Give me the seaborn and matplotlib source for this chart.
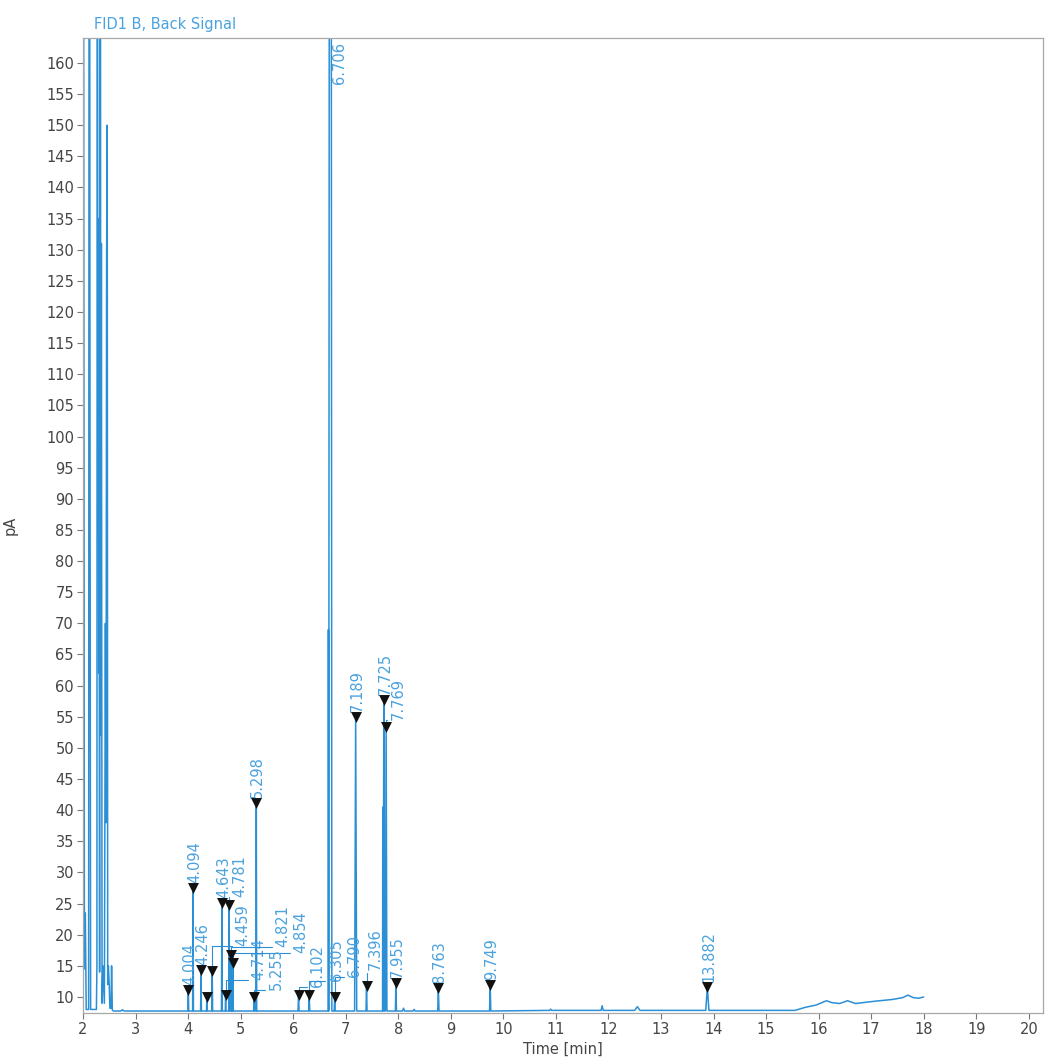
import numpy as np
import pandas as pd
import matplotlib
matplotlib.use("Agg")
import matplotlib.pyplot as plt
import seaborn as sns

# ---------------------------------------------------------------- data
# Solvent front: overlapping injection peaks (time in min, signal in pA)
solvent_time = [2.000, 2.027, 2.044, 2.061, 2.107, 2.120, 2.133, 2.145,
                2.255, 2.265, 2.274, 2.282, 2.291, 2.299, 2.306, 2.316,
                2.327, 2.339, 2.350, 2.363, 2.379, 2.392, 2.407, 2.426,
                2.438, 2.449, 2.461, 2.470, 2.483, 2.499, 2.512, 2.533,
                2.544, 2.558, 2.580]
solvent_signal = [300.0, 14.5, 23.5, 8.0, 8.0, 300.0, 104.0, 8.0,
                  8.0, 15.0, 300.0, 89.0, 135.0, 62.0, 108.0, 14.0,
                  300.0, 52.0, 131.0, 9.0, 15.0, 12.0, 9.0, 70.0,
                  38.0, 128.0, 150.0, 12.0, 15.0, 12.0, 8.2, 8.2,
                  15.0, 7.9, 7.75]

# Integrated peaks (retention time, apex height, half width at base)
peak_rt = [4.004, 4.094, 4.246, 4.356, 4.459, 4.643, 4.714, 4.781, 4.821,
           4.854, 5.255, 5.298, 6.102, 6.305, 6.706, 6.790, 7.189, 7.396,
           7.725, 7.769, 7.955, 8.763, 9.749, 13.882]
peak_height = [11.1, 27.5, 14.3, 10.0, 14.2, 25.1, 10.3, 24.8, 16.7,
               15.5, 10.0, 41.2, 10.3, 10.4, 480.0, 10.0, 55.0, 11.8,
               57.7, 53.4, 12.2, 11.4, 11.9, 11.6]
peak_halfwidth = [0.008, 0.008, 0.008, 0.006, 0.008, 0.008, 0.006, 0.008,
                  0.006, 0.006, 0.008, 0.008, 0.010, 0.010, 0.030, 0.010,
                  0.020, 0.010, 0.012, 0.015, 0.010, 0.012, 0.012, 0.030]
peak_label = ["4.004", "4.094", "4.246", "", "4.459", "4.643", "4.714",
              "4.781", "4.821", "4.854", "5.255", "5.298", "6.102",
              "6.305", "6.706", "6.790", "7.189", "7.396", "7.725",
              "7.769", "7.955", "8.763", "9.749", "13.882"]

# Small unintegrated bumps and shoulders
minor_rt = [2.75, 6.670, 7.705, 8.10, 8.30, 10.90, 11.88, 12.55]
minor_height = [7.95, 69.0, 40.5, 8.2, 8.0, 8.05, 8.6, 8.45]
minor_halfwidth = [0.03, 0.004, 0.004, 0.02, 0.02, 0.02, 0.02, 0.05]

# Baseline levels before / after 10 min
baseline_early = 7.75
baseline_late = 7.85

# Baseline drift at the end of the oven ramp
drift_time = [15.55, 15.75, 15.95, 16.15, 16.25, 16.40, 16.55, 16.70,
              16.85, 17.10, 17.40, 17.60, 17.70, 17.80, 17.90, 18.00]
drift_signal = [7.85, 8.35, 8.70, 9.40, 9.10, 8.95, 9.40, 8.95,
                9.10, 9.35, 9.60, 9.90, 10.30, 9.90, 9.80, 10.00]

# ---------------------------------------------------------------- trace
def base_at(t):
    return baseline_early if t < 10.0 else baseline_late

times = list(solvent_time)
signal = list(solvent_signal)
events = sorted(zip(peak_rt + minor_rt,
                    peak_height + minor_height,
                    peak_halfwidth + minor_halfwidth))
for rt, h, hw in events:
    b = base_at(rt)
    times += [rt - hw, rt, rt + hw]
    signal += [b, h, b]
times += drift_time
signal += drift_signal

trace = pd.DataFrame({"time": times, "signal": signal})
marks = pd.DataFrame({"time": peak_rt, "signal": peak_height})
marks = marks[marks["signal"] < 160]

# ---------------------------------------------------------------- style
sns.set_style("ticks")
plt.rcParams["font.family"] = ["DejaVu Sans"]

BLUE = "#2b8fd6"
LABEL_BLUE = "#4aa2de"
TEXT = "#454545"
SPINE = "#a8a8a8"
FS = 10.5

fig = plt.figure(figsize=(10.49, 10.61), dpi=100)
ax = fig.add_axes([83 / 1049, 1 - 1013 / 1061, 960 / 1049, 975 / 1061])

sns.lineplot(data=trace, x="time", y="signal", sort=False, estimator=None,
             color=BLUE, linewidth=1.1, ax=ax, zorder=2)
sns.scatterplot(data=marks, x="time", y="signal", marker="v", s=62,
                color="#111111", linewidth=0, ax=ax, zorder=4, legend=False)

ax.set_xlim(2.0, 20.27)
ax.set_ylim(7.43, 164.0)
ax.set_xticks(range(2, 21))
ax.set_yticks(range(10, 161, 5))
ax.tick_params(axis="both", direction="out", length=4.5, width=0.8,
               color="#777777", labelcolor=TEXT, labelsize=FS, pad=2)
for s in ax.spines.values():
    s.set_color(SPINE)
    s.set_linewidth(0.9)

ax.set_xlabel("Time [min]", fontsize=FS, color=TEXT)
ax.set_ylabel("pA", fontsize=FS, color=TEXT)
ax.xaxis.set_label_coords(0.5, -0.030)
ax.yaxis.set_label_coords(-0.068, 0.5)

fig.text(94 / 1049, 1 - 25 / 1061, "FID1 B, Back Signal", ha="left",
         va="center", fontsize=FS, color=LABEL_BLUE)

# ---------------------------------------------------------------- peak labels
# offsets in pixels (right, up) from the apex; shifted labels get a leader
label_shift = {"4.459": (31, 25), "4.714": (33, 15), "4.781": (11, 8),
               "4.821": (52, 8), "4.854": (68, 10), "5.255": (22, 7),
               "6.102": (19, 8), "6.305": (27, 14), "6.790": (20, 20),
               "7.396": (9, 16), "7.769": (12, 7)}
ymax = ax.get_ylim()[1]
for rt, h, lab in zip(peak_rt, peak_height, peak_label):
    if not lab:
        continue
    if h > ymax:
        ax.annotate(lab, xy=(rt, ymax), xytext=(9, -4),
                    textcoords="offset pixels", rotation=90, ha="center",
                    va="top", fontsize=FS, color=LABEL_BLUE,
                    annotation_clip=False)
        continue
    if lab in label_shift:
        dx, dy = label_shift[lab]
        ax.annotate(lab, xy=(rt, h), xytext=(dx, dy),
                    textcoords="offset pixels", rotation=90, ha="center",
                    va="bottom", fontsize=FS, color=LABEL_BLUE,
                    arrowprops=dict(arrowstyle="-", color=BLUE, lw=0.8,
                                    shrinkA=0, shrinkB=3.5,
                                    relpos=(0.5, 0.0),
                                    connectionstyle="angle,angleA=0,angleB=90,rad=0"))
    else:
        ax.annotate(lab, xy=(rt, h), xytext=(1.5, 5),
                    textcoords="offset pixels", rotation=90, ha="center",
                    va="bottom", fontsize=FS, color=LABEL_BLUE)

fig.savefig("out.png", dpi=100)
